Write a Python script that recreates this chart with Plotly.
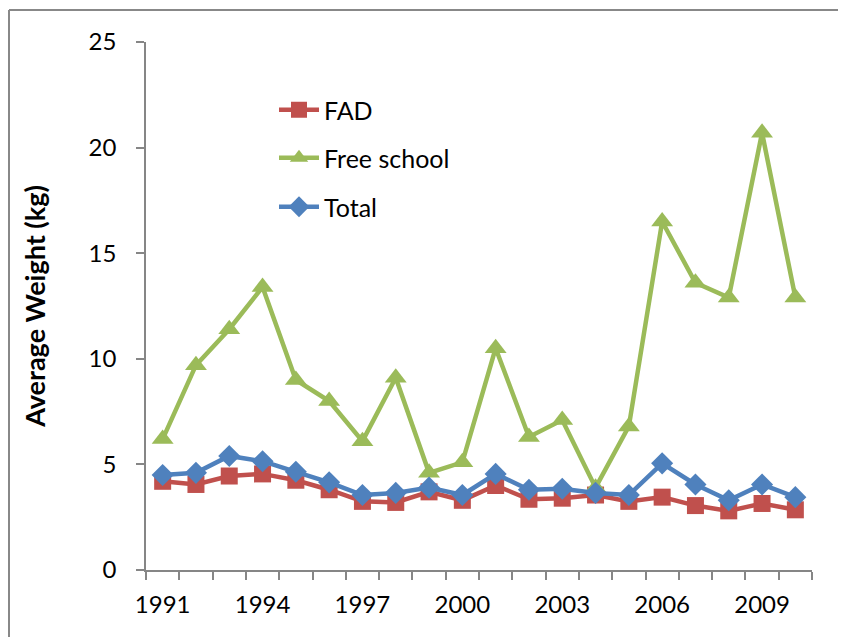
import plotly.graph_objects as go

years = list(range(1991, 2011))
fad = [4.2, 4.05, 4.45, 4.55, 4.25, 3.8, 3.25, 3.2, 3.7, 3.3, 4.0, 3.35, 3.4, 3.55, 3.25, 3.45, 3.05, 2.8, 3.15, 2.85]
free_school = [6.2, 9.7, 11.4, 13.4, 9.0, 8.0, 6.1, 9.1, 4.6, 5.1, 10.5, 6.3, 7.1, 3.9, 6.8, 16.5, 13.6, 12.9, 20.7, 12.9]
total = [4.5, 4.6, 5.4, 5.15, 4.65, 4.15, 3.55, 3.65, 3.9, 3.55, 4.55, 3.8, 3.85, 3.65, 3.55, 5.05, 4.05, 3.3, 4.05, 3.45]
tick_years = years[::3]
tick_text = [str(y) for y in tick_years]
y_ticks = [0, 5, 10, 15, 20, 25]

FONT = "Lato"
TICK_SIZE = 24
LEG_SIZE = 25
fig = go.Figure()
fig.add_trace(go.Scatter(x=years, y=fad, name="FAD", mode="lines+markers",
                         line=dict(color="#C0504D", width=4.5),
                         marker=dict(symbol="square", size=17, color="#C0504D"),
                         legend="legend"))
fig.add_trace(go.Scatter(x=years, y=free_school, name="Free school", mode="lines+markers",
                         line=dict(color="#9BBB59", width=4.5),
                         marker=dict(symbol="triangle-up", size=19, color="#9BBB59"),
                         legend="legend2"))
fig.add_trace(go.Scatter(x=years, y=total, name="Total", mode="lines+markers",
                         line=dict(color="#4F81BD", width=4.5),
                         marker=dict(symbol="diamond", size=17, color="#4F81BD"),
                         legend="legend3"))

leg = dict(bgcolor="rgba(0,0,0,0)", font=dict(family=FONT, size=LEG_SIZE, color="#000"),
           xanchor="left", yanchor="middle", itemwidth=40)
OFF = 8  # page body margin
W, H = 838, 629
l, r, t, b = 138, 34, 34, 67
pw, ph = W - l - r, H - t - b
def px(x):
    return (x - OFF - l) / pw
def py(y):
    return (H - b - (y - OFF)) / ph

fig.update_layout(
    width=W, height=H,
    margin=dict(l=l, r=r, t=t, b=b, autoexpand=False),
    paper_bgcolor="white", plot_bgcolor="white",
    font=dict(family=FONT, size=TICK_SIZE, color="#000"),
    showlegend=True,
    legend=dict(leg, x=px(274), y=py(110)),
    legend2=dict(leg, x=px(274), y=py(158)),
    legend3=dict(leg, x=px(274), y=py(207)),
    xaxis=dict(range=[1990.5, 2010.5], tickmode="array", tickvals=tick_years, ticktext=tick_text,
               ticks="", showgrid=False, zeroline=False, showline=True, linecolor="#868686", linewidth=1.5,
               tickfont=dict(family=FONT, size=TICK_SIZE, color="#000"), ticklabelstandoff=12,
               minor=dict(tick0=1990.5, dtick=1, ticks="outside", ticklen=8, tickcolor="#868686",
                          tickwidth=1.5, showgrid=False)),
    yaxis=dict(range=[0, 25], tickmode="array", tickvals=y_ticks, ticks="outside", ticklen=8,
               tickcolor="#868686", tickwidth=1.5, showgrid=False, zeroline=False, showline=True,
               linecolor="#868686", linewidth=1.5, tickfont=dict(family=FONT, size=TICK_SIZE, color="#000"),
               ticklabelstandoff=15,
               title=dict(text="<b>Average Weight (kg)</b>", font=dict(family=FONT, size=27, color="#000"),
                          standoff=35)),
    shapes=[
        dict(type="line", xref="paper", yref="paper", x0=px(9), x1=px(900), y0=py(10), y1=py(10),
             line=dict(color="#888888", width=2)),
        dict(type="line", xref="paper", yref="paper", x0=px(9), x1=px(9), y0=py(10), y1=py(700),
             line=dict(color="#888888", width=2)),
    ],
)
fig.write_html("out.html")
